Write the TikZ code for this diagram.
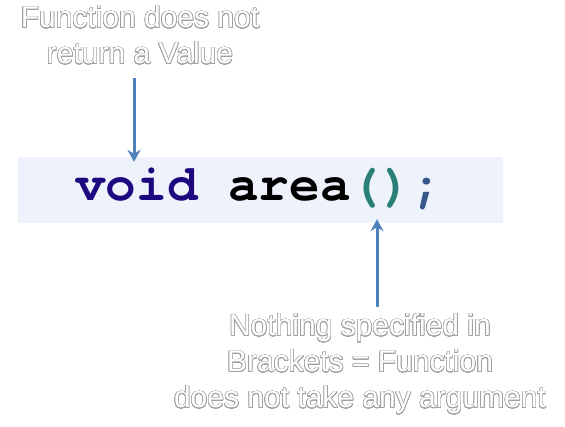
\documentclass[tikz,border=0pt]{standalone}
\usepackage{fontspec}
\setmainfont{Liberation Sans}
\setmonofont{TeX Gyre Cursor}
\usepackage{contour}
\contourlength{0.6pt}
\contournumber{24}
\usetikzlibrary{arrows.meta}
\definecolor{arrowblue}{RGB}{79,129,189}
\definecolor{boxfill}{RGB}{238,242,251}
\definecolor{voidc}{RGB}{30,8,128}
\definecolor{parc}{RGB}{42,128,120}
\definecolor{semic}{RGB}{56,86,138}
\definecolor{outl}{RGB}{160,160,160}
\newcommand{\olt}[1]{\contour{outl}{\textcolor{white}{#1}}}
\tikzset{
  note/.style={align=center, inner sep=0pt, font=\fontsize{30}{36}\selectfont},
  blarrow/.style={draw=arrowblue, line width=3pt, -{Stealth[length=12pt,width=13pt]}},
  codebg/.style={fill=boxfill, draw=none, minimum width=485pt, minimum height=66pt, inner sep=0pt},
  codetext/.style={inner sep=0pt, font=\ttfamily\bfseries\fontsize{51}{51}\selectfont}
}
\begin{document}
\begin{tikzpicture}[x=1pt,y=-1pt]
\useasboundingbox (0,0) rectangle (565,426);
\node[codebg] (box) at (260.5,190) {};
\node[codetext, anchor=base west] (code) at (75,200)
  {\textcolor{voidc}{void} \textcolor{black}{area}\textcolor{parc}{()}\textcolor{semic}{;}};
\node[note, anchor=north] (top) at (140,6) {\olt{Function does not}\\\olt{return a Value}};
\node[note, anchor=north] (bottom) at (360,314) {\olt{Nothing specified in}\\\olt{Brackets = Function}\\\olt{does not take any argument}};
\coordinate (a1s) at (134,78);
\coordinate (a2s) at (377,307);
\draw[blarrow] (a1s) -- ([yshift=-5pt]box.north -| a1s);
\draw[blarrow] (a2s) -- ([yshift=4pt]box.south -| a2s);
\end{tikzpicture}
\end{document}
